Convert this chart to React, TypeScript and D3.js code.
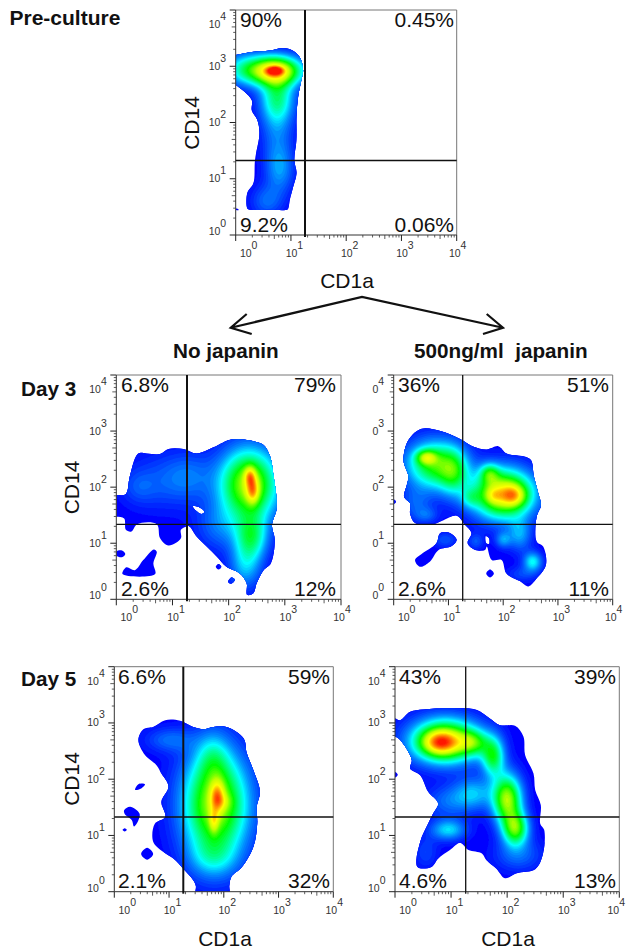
import React, { useMemo } from "react";
import * as d3 from "d3";

type Pt = [number, number];
type Peak = [number, number, number, number, number];

const preMain: Pt[] = [[-0.08,3.19],[0,3.2],[0.26,3.25],[0.62,3.28],[0.83,3.32],[1.01,3.29],[1.16,3.16],[1.22,2.93],[1.19,2.76],[1.13,2.46],[1.1,2.11],[1.1,1.69],[1.06,1.34],[1.1,1.1],[1.04,0.86],[0.98,0.63],[0.95,0.47],[0.93,0.45],[0.6,0.45],[0.25,0.45],[0.21,0.47],[0.21,0.75],[0.32,0.92],[0.35,1.34],[0.43,1.81],[0.39,2.05],[0.29,2.22],[0.29,2.4],[0,2.67],[-0.08,2.72]];
const preIslands: Pt[][] = [[[0,0.47],[0.05,0.46],[0.05,0.44],[0,0.45]]];
const prePeaks: Peak[] = [[0.71,2.92,0.34,0.18,0.74],[0.71,2.92,0.1,0.05,0.34],[0.12,2.95,0.28,0.2,0.22],[0.75,2.45,0.22,0.3,0.3],[0.75,1.9,0.2,0.5,0.13],[0.8,1.16,0.18,0.3,0.15],[0.56,0.6,0.2,0.2,0.12]];

const d3nMain: Pt[] = [[-0.08,1.86],[0,1.86],[0.17,1.88],[0.24,2.19],[0.39,2.6],[0.54,2.6],[0.78,2.59],[0.93,2.68],[1.19,2.68],[1.43,2.6],[1.73,2.71],[2.05,2.85],[2.38,2.83],[2.62,2.75],[2.74,2.54],[2.8,2.19],[2.85,1.83],[2.85,1.59],[2.77,1.33],[2.82,1.06],[2.75,0.64],[2.62,0.52],[2.5,0.29],[2.44,0.11],[2.33,0.08],[2.32,0.29],[2.2,0.46],[1.96,0.58],[1.79,0.76],[1.61,0.94],[1.43,1.12],[1.3,1.3],[1.25,1.3],[1.15,1.24],[1.15,1.09],[0.93,0.96],[0.78,1.09],[0.72,1.34],[0.37,1.34],[0.27,1.21],[0.17,1.24],[0.14,1.44],[0,1.47],[-0.08,1.47]];
const d3nIslands: Pt[][] = [
  [[1.36,1.66],[1.46,1.65],[1.57,1.56],[1.52,1.52],[1.42,1.58]],
  [[0,0.85],[0.1,0.87],[0.16,0.81],[0.1,0.75],[0,0.78]],
  [[0.11,0.45],[0.18,0.57],[0.33,0.52],[0.48,0.7],[0.67,0.89],[0.72,0.85],[0.66,0.64],[0.69,0.45]],
  [[1.82,0.63],[1.87,0.58],[1.82,0.53],[1.77,0.58]],
  [[2.05,0.39],[2.11,0.35],[2.05,0.28],[1.99,0.31]],
];
const d3nPeaks: Peak[] = [[2.36,2.05,0.36,0.44,0.62],[2.38,2.2,0.07,0.12,0.27],[2.43,1.93,0.08,0.16,0.3],[2.41,1.12,0.2,0.28,0.32],[0.8,2.1,0.45,0.35,0.09],[1.3,2.2,0.3,0.3,0.1],[0.4,2.0,0.2,0.2,0.06],[2.3,0.6,0.2,0.3,0.2],[1.85,1.3,0.3,0.3,0.12]];

const d3jMain: Pt[] = [[0.18,2.48],[0.27,2.84],[0.51,3.04],[0.85,3.0],[1.21,2.86],[1.46,2.72],[1.7,2.67],[1.91,2.73],[2.06,2.6],[2.49,2.5],[2.56,2.19],[2.64,1.89],[2.69,1.68],[2.61,1.47],[2.61,1.03],[2.73,0.94],[2.78,0.61],[2.61,0.37],[2.46,0.23],[2.31,0.32],[2.06,0.46],[1.97,0.7],[1.79,0.7],[1.7,0.94],[1.67,0.88],[1.49,0.88],[1.35,1.0],[1.42,1.18],[1.3,1.33],[1.15,1.49],[0.91,1.41],[0.69,1.33],[0.39,1.36],[0.3,1.53],[0.3,1.71],[0.19,1.83],[0.24,2.04],[0.27,2.19]];
const d3jIslands: Pt[][] = [
  [[1.68,1.13],[1.74,1.09],[1.74,0.99],[1.69,1.0]],
  [[0.39,0.7],[0.51,0.81],[0.78,1.0],[0.85,1.18],[1.03,1.18],[1.15,1.06],[1.06,0.95],[0.82,0.88],[0.66,0.67],[0.48,0.58]],
  [[1.76,0.53],[1.83,0.46],[1.76,0.39],[1.69,0.46]],
  [[0,1.78],[0.04,1.74],[0,1.7],[-0.04,1.74]],
];
const d3jPeaks: Peak[] = [[0.6,2.53,0.13,0.09,0.32],[0.75,2.4,0.36,0.3,0.48],[1.1,2.25,0.18,0.28,0.26],[2.0,1.88,0.38,0.3,0.74],[2.2,1.85,0.15,0.13,0.25],[1.82,1.85,0.1,0.1,0.12],[1.75,2.25,0.12,0.12,0.26],[0.4,1.7,0.2,0.2,0.1],[0.6,1.5,0.15,0.1,0.1],[1.4,1.8,0.12,0.12,0.14],[2.54,0.67,0.12,0.12,0.27],[2.0,1.06,0.1,0.1,0.16],[2.3,1.15,0.15,0.2,0.18],[1.5,1.03,0.1,0.1,0.1],[0.94,1.06,0.15,0.1,0.1],[2.35,0.45,0.2,0.1,0.08]];

const d5nMain: Pt[] = [[0.44,2.7],[0.53,2.89],[0.71,2.93],[0.93,3.05],[1.2,3.04],[1.44,2.93],[1.63,2.89],[1.81,2.93],[2.05,2.93],[2.36,2.73],[2.42,2.46],[2.54,2.16],[2.66,1.78],[2.6,1.51],[2.61,1.21],[2.54,0.8],[2.33,0.44],[2.14,0.27],[2.1,0.1],[2.1,-0.08],[1.49,-0.08],[1.49,0.1],[1.44,0.21],[1.26,0.41],[1.08,0.59],[0.89,0.71],[0.71,0.89],[0.74,1.21],[0.93,1.33],[0.86,1.6],[0.99,1.87],[0.86,2.1],[0.77,2.25],[0.56,2.43]];
const d5nIslands: Pt[][] = [
  [[0.38,1.81],[0.44,1.91],[0.56,1.91],[0.48,1.83]],
  [[0.18,1.45],[0.29,1.51],[0.46,1.39],[0.44,1.27],[0.36,1.16],[0.32,1.27],[0.19,1.38]],
  [[0.19,1.13],[0.23,1.1],[0.19,1.07],[0.15,1.1]],
  [[0.6,0.78],[0.71,0.67],[0.6,0.57],[0.49,0.67]],
];
const d5nPeaks: Peak[] = [[1.85,1.55,0.41,0.65,0.62],[1.88,1.7,0.09,0.2,0.3],[1.82,1.25,0.06,0.15,0.2],[2.0,1.6,0.12,0.1,0.08],[1.8,2.4,0.2,0.3,0.14],[1.8,0.6,0.3,0.25,0.14],[1.0,2.7,0.3,0.15,0.12]];

const d5jMain: Pt[] = [[-0.08,3.08],[0,3.08],[0.09,3.05],[0.27,3.2],[0.51,3.24],[1.04,3.26],[1.46,3.23],[1.69,3.08],[1.87,2.96],[2.14,2.95],[2.29,2.76],[2.32,2.43],[2.47,2.1],[2.5,1.81],[2.6,1.54],[2.59,1.21],[2.66,1.1],[2.64,0.68],[2.5,0.4],[2.17,0.33],[1.96,0.24],[1.81,0.41],[1.63,0.56],[1.55,0.68],[1.31,0.74],[1.16,0.87],[0.98,0.74],[0.77,0.59],[0.65,0.44],[0.4,0.44],[0.45,0.89],[0.59,1.21],[0.68,1.39],[0.77,1.57],[0.59,1.78],[0.45,2.07],[0.27,2.19],[0.3,2.34],[0.09,2.7],[0,2.76],[-0.08,2.76]];
const d5jIslands: Pt[][] = [[[0,2.13],[0.05,2.08],[0,2.03],[-0.04,2.08]]];
const d5jPeaks: Peak[] = [[0.9,2.68,0.42,0.27,0.68],[0.8,2.65,0.22,0.15,0.34],[1.4,2.65,0.18,0.15,0.26],[1.75,2.4,0.14,0.24,0.4],[2.0,1.65,0.18,0.3,0.6],[2.15,1.12,0.16,0.21,0.5],[0.95,1.1,0.22,0.13,0.24],[1.4,1.75,0.25,0.2,0.2],[0.95,1.6,0.3,0.2,0.12],[0.55,0.7,0.15,0.2,0.08],[2.2,0.65,0.3,0.2,0.12]];

const decades = [0, 1, 2, 3, 4];
const quadrantPre = ["90%", "0.45%", "9.2%", "0.06%"];
const quadrantD3N = ["6.8%", "79%", "2.6%", "12%"];
const quadrantD3J = ["36%", "51%", "2.6%", "11%"];
const quadrantD5N = ["6.6%", "59%", "2.1%", "32%"];
const quadrantD5J = ["43%", "39%", "4.6%", "13%"];

const W = 627, H = 950, CELL = 1.5;
const FONT = "'Liberation Sans', Arial, sans-serif";

const colorStops = [0, 0.07, 0.16, 0.26, 0.36, 0.46, 0.62, 0.74, 0.87, 1];
const colorValues = ["#0000ff", "#0040ff", "#0090ff", "#00ffff", "#00ff80", "#00ff00", "#c0ff00", "#ffff00", "#ff8000", "#ff0000"];
const color = d3.scaleLinear<string>().domain(colorStops).range(colorValues).clamp(true);
const levels = d3.range(0.02, 1.0, 0.02);

interface PanelCfg {
  id: string; x0: number; x1: number; y0: number; y1: number; vx: number; hy: number; vw: number;
  main: Pt[]; islands: Pt[][]; peaks: Peak[]; pct: string[];
  pctX: [number, number]; pctY: [number, number]; yPrefix: string; lastXShift: number;
}

const panels: PanelCfg[] = [
  { id: "pre", x0: 235.7, x1: 456.7, y0: 10, y1: 235, vx: 305, hy: 160.5, vw: 2, main: preMain, islands: preIslands, peaks: prePeaks, pct: quadrantPre, pctX: [240, 454], pctY: [27, 231.5], yPrefix: "10", lastXShift: 1 },
  { id: "d3n", x0: 116.3, x1: 341, y0: 375, y1: 599.3, vx: 187, hy: 524.3, vw: 2, main: d3nMain, islands: d3nIslands, peaks: d3nPeaks, pct: quadrantD3N, pctX: [121, 336], pctY: [391.5, 596], yPrefix: "10", lastXShift: 1 },
  { id: "d3j", x0: 393.7, x1: 612.7, y0: 375, y1: 599.3, vx: 462.7, hy: 524.3, vw: 1.3, main: d3jMain, islands: d3jIslands, peaks: d3jPeaks, pct: quadrantD3J, pctX: [398, 609], pctY: [391.5, 596], yPrefix: "0", lastXShift: 1 },
  { id: "d5n", x0: 114.3, x1: 333.3, y0: 666.7, y1: 891.7, vx: 183.3, hy: 817, vw: 2, main: d5nMain, islands: d5nIslands, peaks: d5nPeaks, pct: quadrantD5N, pctX: [118, 330], pctY: [683.5, 888], yPrefix: "10", lastXShift: 1 },
  { id: "d5j", x0: 395, x1: 619.3, y0: 666.7, y1: 891.7, vx: 465.7, hy: 817, vw: 1.3, main: d5jMain, islands: d5jIslands, peaks: d5jPeaks, pct: quadrantD5J, pctX: [399, 616], pctY: [683.5, 888], yPrefix: "10", lastXShift: -3 },
];

function Panel({ p }: { p: PanelCfg }) {
  const x = d3.scaleLog().domain([1, 1e4]).range([p.x0, p.x1]);
  const y = d3.scaleLog().domain([1, 1e4]).range([p.y1, p.y0]);
  const { clipD, contours } = useMemo(() => {
    const outline = d3.line<Pt>().x((d) => x(10 ** d[0])).y((d) => y(10 ** d[1]));
    const mainLine = outline.curve(d3.curveCatmullRomClosed.alpha(0.5));
    const clipD = [p.main, ...p.islands].map((s) => mainLine(s)).join(" ");
    const n = Math.ceil((p.x1 - p.x0) / CELL), m = Math.ceil((p.y1 - p.y0) / CELL);
    const values = new Float64Array(n * m);
    for (let j = 0; j < m; j++) {
      const b = Math.log10(y.invert(p.y0 + (j + 0.5) * CELL));
      for (let i = 0; i < n; i++) {
        const a = Math.log10(x.invert(p.x0 + (i + 0.5) * CELL));
        let v = 0;
        for (const [pa, pb, sa, sb, h] of p.peaks) {
          v += h * Math.exp(-0.5 * (((a - pa) / sa) ** 2 + ((b - pb) / sb) ** 2));
        }
        values[j * n + i] = Math.min(v, 1);
      }
    }
    const cs = d3.contours().size([n, m]).thresholds(levels)(values as unknown as number[]);
    const path = d3.geoPath(d3.geoTransform({
      point(px: number, py: number) { (this as any).stream.point(p.x0 + px * CELL, p.y0 + py * CELL); },
    }));
    return { clipD, contours: cs.map((c) => ({ v: c.value, d: path(c as any) || "" })) };
  }, [p.id]);

  const minor = x.ticks().filter((t) => !decades.includes(Math.round(Math.log10(t) * 1000) / 1000));
  const majors = decades.map((d) => 10 ** d);
  const tickLen = (t: number) => (Math.abs(t / 10 ** Math.floor(Math.log10(t) + 1e-9) - 5) < 1e-6 ? 4 : 2.5);

  return (
    <g>
      <defs>
        <clipPath id={`frame-${p.id}`}><rect x={p.x0} y={p.y0} width={p.x1 - p.x0} height={p.y1 - p.y0} /></clipPath>
        <clipPath id={`shape-${p.id}`}><path d={clipD} clipRule="evenodd" /></clipPath>
      </defs>
      <g clipPath={`url(#frame-${p.id})`} filter="url(#soft)">
        <g clipPath={`url(#shape-${p.id})`}>
          <rect x={p.x0} y={p.y0} width={p.x1 - p.x0} height={p.y1 - p.y0} fill={color(0)} />
          {contours.map((c) => <path key={c.v} d={c.d} fill={color(c.v)} />)}
        </g>
      </g>
      <path d={`M${p.x0},${p.y0}H${p.x1}V${p.y1}`} fill="none" stroke="#777" strokeWidth={1} />
      <path d={`M${p.x0},${p.y0}V${p.y1}H${p.x1}`} fill="none" stroke="#333" strokeWidth={1} />
      {minor.map((t) => (
        <g key={t} stroke="#333" strokeWidth={0.8}>
          <line x1={x(t)} x2={x(t)} y1={p.y1} y2={p.y1 + tickLen(t)} />
          <line y1={y(t)} y2={y(t)} x1={p.x0} x2={p.x0 - tickLen(t)} />
        </g>
      ))}
      {majors.map((t) => (
        <g key={t} stroke="#222" strokeWidth={1}>
          <line x1={x(t)} x2={x(t)} y1={p.y1} y2={p.y1 + 6} />
          <line y1={y(t)} y2={y(t)} x1={p.x0} x2={p.x0 - 6} />
        </g>
      ))}
      {decades.map((d, i) => (
        <text key={`x${d}`} x={x(10 ** d) + (i === 0 ? 13 : i === 4 ? p.lastXShift : 3.5)} y={p.y1 + 22} textAnchor="middle" fontSize={10.5} fill="#333" fontFamily={FONT}>
          10<tspan dy={-8}>{d}</tspan>
        </text>
      ))}
      {decades.map((d, i) => (
        <text key={`y${d}`} x={p.x0 - 9.5} y={y(10 ** d) + (i === 0 ? 0 : i === 4 ? 18 : 3.5)} textAnchor="end" fontSize={10.5} fill="#333" fontFamily={FONT}>
          {p.yPrefix}<tspan dy={-8}>{d}</tspan>
        </text>
      ))}
      <line x1={p.x0} x2={p.x1} y1={p.hy} y2={p.hy} stroke="#111" strokeWidth={1.3} />
      <line x1={p.vx} x2={p.vx} y1={p.y0} y2={p.y1 + 2} stroke="#111" strokeWidth={p.vw} />
      {p.pct.map((s, i) => (
        <text key={i} x={p.pctX[i % 2]} y={p.pctY[i < 2 ? 0 : 1]} textAnchor={i % 2 ? "end" : "start"} fontSize={21} fill="#111" fontFamily={FONT}>{s}</text>
      ))}
    </g>
  );
}

const boldTitles: [string, number, number][] = [["Pre-culture", 9.5, 25], ["No japanin", 173, 358], ["500ng/ml  japanin", 414, 358], ["Day 3", 21, 396], ["Day 5", 21, 686]];
const cd14Labels: [number, number][] = [[199, 123], [79, 487.5], [79, 779]];
const cd1aLabels: [number, number][] = [[347, 288], [225, 946], [508, 946]];

export default function App() {
  return (
    <svg width={W} height={H} viewBox={`0 0 ${W} ${H}`} style={{ position: "absolute", left: 0, top: 0, background: "#fff" }}>
      <defs>
        <filter id="soft" x="-5%" y="-5%" width="110%" height="110%"><feGaussianBlur stdDeviation={0.5} /></filter>
      </defs>
      {panels.map((p) => <Panel key={p.id} p={p} />)}
      {boldTitles.map(([s, tx, ty]) => (
        <text key={s} x={tx} y={ty} fontSize={s === "Pre-culture" ? 21 : 20.7} fontWeight={700} fill="#111" fontFamily={FONT} xmlSpace="preserve" style={{ whiteSpace: "pre" }}>{s}</text>
      ))}
      {cd14Labels.map(([tx, ty]) => (
        <text key={ty} transform={`translate(${tx},${ty}) rotate(-90)`} textAnchor="middle" fontSize={21} fill="#111" fontFamily={FONT}>CD14</text>
      ))}
      {cd1aLabels.map(([tx, ty]) => (
        <text key={tx} x={tx} y={ty} textAnchor="middle" fontSize={21} fill="#111" fontFamily={FONT}>CD1a</text>
      ))}
      <path d="M230.7,327.7L362,297L503,327.7M246.7,314L230.7,327.7L251.7,334M486.7,314L503,327.7L483,334" fill="none" stroke="#111" strokeWidth={2.2} strokeLinejoin="miter" />
    </svg>
  );
}
